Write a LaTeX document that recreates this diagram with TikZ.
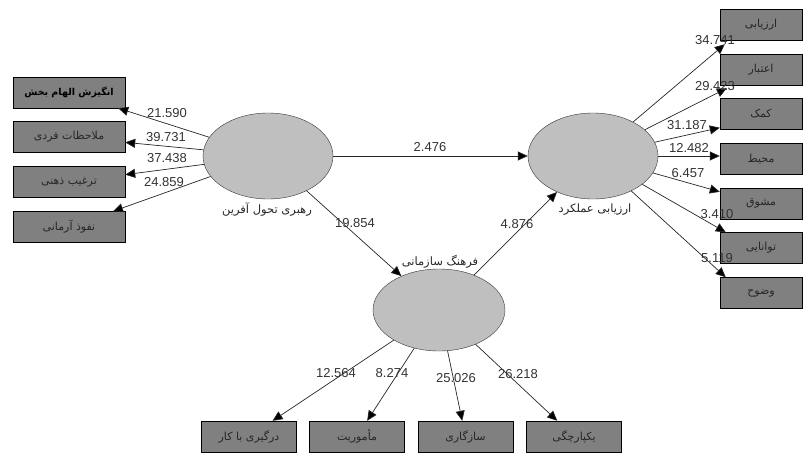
\documentclass[tikz,border=0pt]{standalone}
\usepackage{fontspec}
\setmainfont{Liberation Sans}
\newfontfamily\farsi[Script=Arabic]{DejaVu Sans}
\TeXXeTstate=1
\usepackage{tikz}
\usetikzlibrary{arrows.meta,positioning,shapes.geometric}

\newcommand{\fa}[1]{{\farsi\beginR #1\endR}}

\tikzset{
  indicator/.style={rectangle, draw=black, fill=black!50, inner sep=0pt,
    text=black!85, font=\fontsize{11}{12}\selectfont},
  leftbox/.style={indicator, minimum width=112pt, minimum height=31pt},
  rightbox/.style={indicator, minimum width=82pt, minimum height=31pt},
  lowbox/.style={indicator, minimum width=95pt, minimum height=31pt},
  latent/.style={ellipse, draw=black!80, fill=black!25, minimum width=130pt,
    minimum height=86pt, inner sep=0pt},
  path/.style={draw=black!85, line width=0.7pt,
    -{Triangle[length=10pt,width=9pt,fill=black]}},
  coef/.style={text=black!80, font=\fontsize{13}{14}\selectfont, inner sep=0pt},
  tag/.style={text=black!85, font=\fontsize{11.5}{12}\selectfont, inner sep=0pt}
}

\begin{document}
\begin{tikzpicture}[x=1pt, y=-1pt]

  \useasboundingbox (0,0) rectangle (805,452);

  % latent variables
  \node[latent] (lead) at (268,156) {};
  \node[latent] (perf) at (593,156) {};
  \node[latent, minimum width=132pt, minimum height=82pt] (cult) at (439,310) {};

  \node[tag] (leadname) at (267,210) {\fa{رهبری تحول آفرین}};
  \node[tag] (perfname) at (595,210) {\fa{ارزیابی عملکرد}};
  \node[tag] (cultname) at (440,262) {\fa{فرهنگ سازمانی}};

  % left indicators
  \node[leftbox, text=black, font=\fontsize{9.5}{11}\selectfont\bfseries] (lb1) at (69,92.5) {\fa{انگیزش الهام بخش}};
  \node[leftbox] (lb2) at (69,137) {\fa{ملاحظات فردی}};
  \node[leftbox] (lb3) at (69,182) {\fa{ترغیب ذهنی}};
  \node[leftbox] (lb4) at (69,227) {\fa{نفوذ آرمانی}};

  % right indicators
  \node[rightbox] (rb1) at (761,24.5) {\fa{ارزیابی}};
  \node[rightbox] (rb2) at (761,69.5) {\fa{اعتبار}};
  \node[rightbox] (rb3) at (761,114) {\fa{کمک}};
  \node[rightbox] (rb4) at (761,159) {\fa{محیط}};
  \node[rightbox] (rb5) at (761,203.5) {\fa{مشوق}};
  \node[rightbox] (rb6) at (761,248) {\fa{توانایی}};
  \node[rightbox] (rb7) at (761,293) {\fa{وضوح}};

  % bottom indicators
  \node[lowbox] (bb1) at (249,436.5) {\fa{درگیری با کار}};
  \node[lowbox] (bb2) at (357,436.5) {\fa{مأموریت}};
  \node[lowbox] (bb3) at (465.5,436.5) {\fa{سازگاری}};
  \node[lowbox] (bb4) at (574,436.5) {\fa{یکپارچگی}};

  % structural paths
  \draw[path] (lead) -- (perf);
  \draw[path] (lead) -- (cult);
  \draw[path] (cult) -- (perf);

  % loadings
  \draw[path] (lead) -- (lb1);
  \draw[path] (lead) -- (lb2);
  \draw[path] (lead) -- (lb3);
  \draw[path] (lead) -- (lb4);

  \draw[path] (perf) -- ([xshift=5pt,yshift=-4pt]rb1.south west);
  \draw[path] (perf) -- ([xshift=7pt,yshift=-3pt]rb2.south west);
  \draw[path] (perf) -- ([yshift=2pt]rb3.south west);
  \draw[path] (perf) -- ([yshift=3pt]rb4.west);
  \draw[path] (perf) -- ([yshift=-4pt]rb5.north west);
  \draw[path] (perf) -- ([xshift=6pt]rb6.north west);
  \draw[path] (perf) -- ([xshift=6pt]rb7.north west);

  \draw[path] (cult) -- (bb1);
  \draw[path] (cult) -- (bb2);
  \draw[path] (cult) -- (bb3);
  \draw[path] (cult) -- (bb4);

  % t-values
  \node[coef] at (430,147) {2.476};
  \node[coef] at (355,223) {19.854};
  \node[coef] at (517,224) {4.876};

  \node[coef] at (167,113) {21.590};
  \node[coef] at (166,137) {39.731};
  \node[coef] at (167,158) {37.438};
  \node[coef] at (164,182) {24.859};

  \node[coef] at (715,40) {34.741};
  \node[coef] at (715,86) {29.423};
  \node[coef] at (687,125) {31.187};
  \node[coef] at (689,148) {12.482};
  \node[coef] at (688,173) {6.457};
  \node[coef] at (717,214) {3.410};
  \node[coef] at (717,258) {5.119};

  \node[coef] at (336,373) {12.564};
  \node[coef] at (392,373) {8.274};
  \node[coef] at (456,378) {25.026};
  \node[coef] at (518,374) {26.218};

\end{tikzpicture}
\end{document}
